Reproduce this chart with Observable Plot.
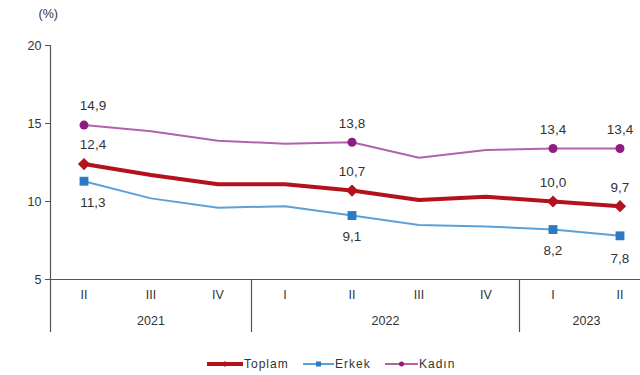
<!DOCTYPE html>
<html>
<head>
<meta charset="utf-8">
<script src="https://cdn.jsdelivr.net/npm/d3@7"></script>
<script src="https://cdn.jsdelivr.net/npm/@observablehq/plot@0.6"></script>
<style>
  html, body { margin: 0; padding: 0; background: #fff; overflow: hidden; width: 640px; height: 375px; }
  #chart svg { display: block; max-width: none !important; }
  .legend { position: absolute; top: 357px; left: 0; width: 640px; font: 12px "Liberation Sans", Arial, sans-serif; letter-spacing: 1px; color: #333; }
  .legend span.item { position: absolute; top: 0; display: flex; align-items: center; height: 14px; }
  .legend svg { display: block; margin-right: 1px; }
</style>
</head>
<body>
<div id="chart"></div>
<div class="legend" id="legend"></div>
<script>
const quarters = ["II", "III", "IV", "I", "II", "III", "IV", "I", "II"];
const years = ["2021", "2022", "2023"];
const yearQuarterCounts = [3, 4, 2];
const toplam = [12.4, 11.7, 11.1, 11.1, 10.7, 10.1, 10.3, 10.0, 9.7];
const erkek  = [11.3, 10.2, 9.6, 9.7, 9.1, 8.5, 8.4, 8.2, 7.8];
const kadin  = [14.9, 14.5, 13.9, 13.7, 13.8, 12.8, 13.3, 13.4, 13.4];
const labeled = [0, 4, 7, 8];
const yTicks = [5, 10, 15, 20];

const seriesNames = ["Toplam", "Erkek", "Kadın"];
const lineColors = {Toplam: "#b3121c", Erkek: "#5da0d8", Kadın: "#b262ab"};
const markColors = {Toplam: "#b3121c", Erkek: "#2a7bc2", Kadın: "#8e1c82"};

const rows = [];
[toplam, erkek, kadin].forEach((arr, s) => arr.forEach((v, i) => rows.push({series: seriesNames[s], i, v})));
const lab = rows.filter(d => labeled.includes(d.i));

// year boundaries and centers (in quarter-index units)
const bounds = [-0.5];
const centers = [];
let acc = -0.5;
yearQuarterCounts.forEach(c => { centers.push(acc + c / 2); acc += c; bounds.push(acc); });

const fmt = v => v.toFixed(1).replace(".", ",");
const font = "Liberation Sans, Arial, sans-serif";
const txt = {x: "i", y: "v", text: d => fmt(d.v), fill: "#333", fontSize: 13.5};

const above = lab.filter(d => d.series !== "Erkek");
const below = lab.filter(d => d.series === "Erkek");

const chart = Plot.plot({
  width: 660,
  height: 345,
  marginLeft: 50,
  marginRight: 7,
  marginTop: 45,
  marginBottom: 66,
  style: {fontFamily: font, fontSize: "12px", color: "#333", background: "white", overflow: "visible", maxWidth: "none"},
  x: {type: "linear", domain: [-0.5, 8.5], axis: null},
  y: {domain: [5, 20], axis: null},
  marks: [
    Plot.ruleY([5], {stroke: "#555", strokeWidth: 1.2}),
    Plot.ruleX([-0.5], {stroke: "#555", strokeWidth: 1.2}),
    Plot.axisX(bounds.slice(0, 3), {tickSize: 53, tickFormat: () => "", stroke: "#555", strokeWidth: 1.2, label: null}),
    Plot.axisY(yTicks, {tickSize: 5, tickPadding: 4, stroke: "#555", fill: "#333", fontSize: 12.5, label: null}),
    Plot.axisX(d3.range(quarters.length), {tickSize: 0, tickPadding: 11, tickFormat: i => quarters[i], fill: "#333", fontSize: 12.5, label: null}),
    Plot.axisX(centers, {tickSize: 0, tickPadding: 37, tickFormat: (c) => years[centers.indexOf(c)], fill: "#333", fontSize: 12.5, label: null}),
    Plot.text(["(%)"], {frameAnchor: "top-left", dx: -12, dy: -36, fill: "#333", fontSize: 12.5, textAnchor: "start"}),
    Plot.line(rows.filter(d => d.series === "Kadın"), {x: "i", y: "v", stroke: lineColors["Kadın"], strokeWidth: 2}),
    Plot.line(rows.filter(d => d.series === "Erkek"), {x: "i", y: "v", stroke: lineColors["Erkek"], strokeWidth: 2}),
    Plot.line(rows.filter(d => d.series === "Toplam"), {x: "i", y: "v", stroke: lineColors["Toplam"], strokeWidth: 4}),
    Plot.dot(lab.filter(d => d.series === "Kadın"), {x: "i", y: "v", symbol: "circle", r: 4.5, fill: markColors["Kadın"]}),
    Plot.dot(lab.filter(d => d.series === "Erkek"), {x: "i", y: "v", symbol: "square", r: 5, fill: markColors["Erkek"]}),
    Plot.dot(lab.filter(d => d.series === "Toplam"), {x: "i", y: "v", symbol: "diamond2", r: 5.5, fill: markColors["Toplam"]}),
    Plot.text(above.filter(d => d.i === 0), {...txt, dy: -19, dx: 9}),
    Plot.text(above.filter(d => d.i !== 0), {...txt, dy: -19}),
    Plot.text(below.filter(d => d.i === 0), {...txt, dy: 21, dx: 9}),
    Plot.text(below.filter(d => d.i !== 0 && d.i !== 8), {...txt, dy: 21}),
    Plot.text(below.filter(d => d.i === 8), {...txt, dy: 23})
  ]
});
document.getElementById("chart").appendChild(chart);

// legend
const legend = document.getElementById("legend");
const legendX = [207, 303, 385];
const legendW = [36, 31, 33];
const legendSym = {Toplam: "diamond", Erkek: "square", Kadın: "circle"};
seriesNames.forEach((name, k) => {
  const item = document.createElement("span");
  item.className = "item";
  item.style.left = legendX[k] + "px";
  const w = legendW[k];
  const sw = name === "Toplam" ? 4 : 2;
  let marker = "";
  if (legendSym[name] === "diamond") marker = `<path d="M${w/2-3},7 l3,-3 l3,3 l-3,3z" fill="${markColors[name]}"/>`;
  else if (legendSym[name] === "square") marker = `<rect x="${w/2-2.5}" y="4.5" width="5" height="5" fill="${markColors[name]}"/>`;
  else marker = `<circle cx="${w/2}" cy="7" r="2.5" fill="${markColors[name]}"/>`;
  item.innerHTML = `<svg width="${w}" height="14"><line x1="0" x2="${w}" y1="7" y2="7" stroke="${lineColors[name]}" stroke-width="${sw}"/>${marker}</svg><span>${name}</span>`;
  legend.appendChild(item);
});
</script>
</body>
</html>
